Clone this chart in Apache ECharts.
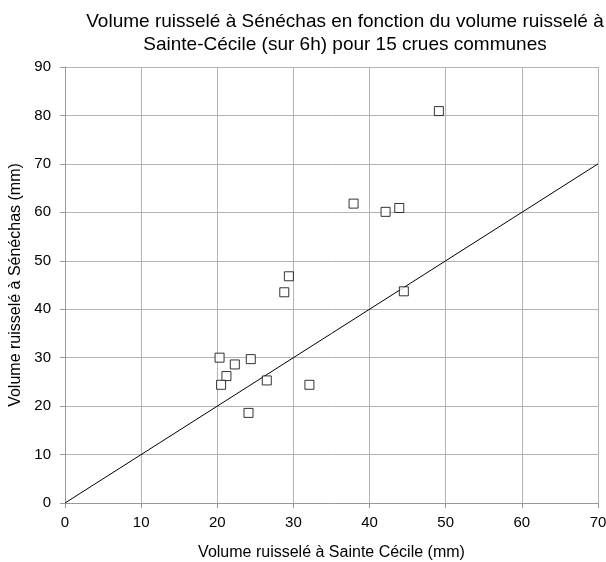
<!DOCTYPE html>
<html>
<head>
<meta charset="utf-8">
<script src="https://cdn.jsdelivr.net/npm/echarts@6/dist/echarts.min.js"></script>
<style>html,body{margin:0;padding:0;background:#fff;}#c{width:606px;height:562px;}</style>
</head>
<body>
<div id="c"></div>
<script>
const titleText = "Volume ruisselé à Sénéchas en fonction du volume ruisselé à\nSainte-Cécile (sur 6h) pour 15 crues communes";
const xName = "Volume ruisselé à Sainte Cécile (mm)";
const yName = "Volume ruisselé à Sénéchas (mm)";
const xVals = [20.3, 22.3, 24.4, 21.2, 20.5, 26.5, 32.1, 24.1, 37.9, 42.1, 43.9, 29.4, 28.8, 44.5, 49.1];
const yVals = [30.0, 28.6, 29.7, 26.2, 24.4, 25.3, 24.4, 18.6, 61.8, 60.1, 60.9, 46.8, 43.5, 43.7, 80.9];
const lineX = [0, 70];
const lineY = [0, 70];

const font = "'Liberation Sans', Arial, sans-serif";
const chart = echarts.init(document.getElementById('c'));
chart.setOption({
  animation: false,
  backgroundColor: '#fff',
  title: {
    text: titleText,
    left: 340, textAlign: 'center', top: 5,
    textStyle: {fontFamily: font, fontSize: 19, fontWeight: 'normal', color: '#000', lineHeight: 23}
  },
  grid: {left: 65, right: 8, top: 67, bottom: 59, outerBoundsMode: 'none', containLabel: false},
  xAxis: {
    type: 'value', min: 0, max: 70, interval: 10,
    name: xName, nameLocation: 'middle', nameGap: 42,
    nameTextStyle: {fontFamily: font, fontSize: 16, color: '#000'},
    axisLine: {show: true, lineStyle: {color: '#999', width: 1}},
    axisTick: {show: true, length: 5, lineStyle: {color: '#999'}},
    axisLabel: {fontFamily: font, fontSize: 15, color: '#000', margin: 12},
    splitLine: {show: true, lineStyle: {color: '#b3b3b3', width: 1}}
  },
  yAxis: {
    type: 'value', min: 0, max: 90, interval: 10,
    name: yName, nameLocation: 'middle', nameGap: 41,
    nameTextStyle: {fontFamily: font, fontSize: 16, color: '#000'},
    axisLine: {show: true, lineStyle: {color: '#999', width: 1}},
    axisTick: {show: true, length: 5, lineStyle: {color: '#999'}},
    axisLabel: {fontFamily: font, fontSize: 15, color: '#000', margin: 14},
    splitLine: {show: true, lineStyle: {color: '#b3b3b3', width: 1}}
  },
  series: [
    {
      type: 'line', data: lineX.map((x, i) => [x, lineY[i]]),
      showSymbol: false, symbol: 'none',
      lineStyle: {color: '#000', width: 1}, z: 3
    },
    {
      type: 'scatter', data: xVals.map((x, i) => [x, yVals[i]]),
      symbol: 'rect', symbolSize: 9,
      itemStyle: {color: '#fff', borderColor: '#000', borderWidth: 1}, z: 4
    }
  ]
});
</script>
</body>
</html>
